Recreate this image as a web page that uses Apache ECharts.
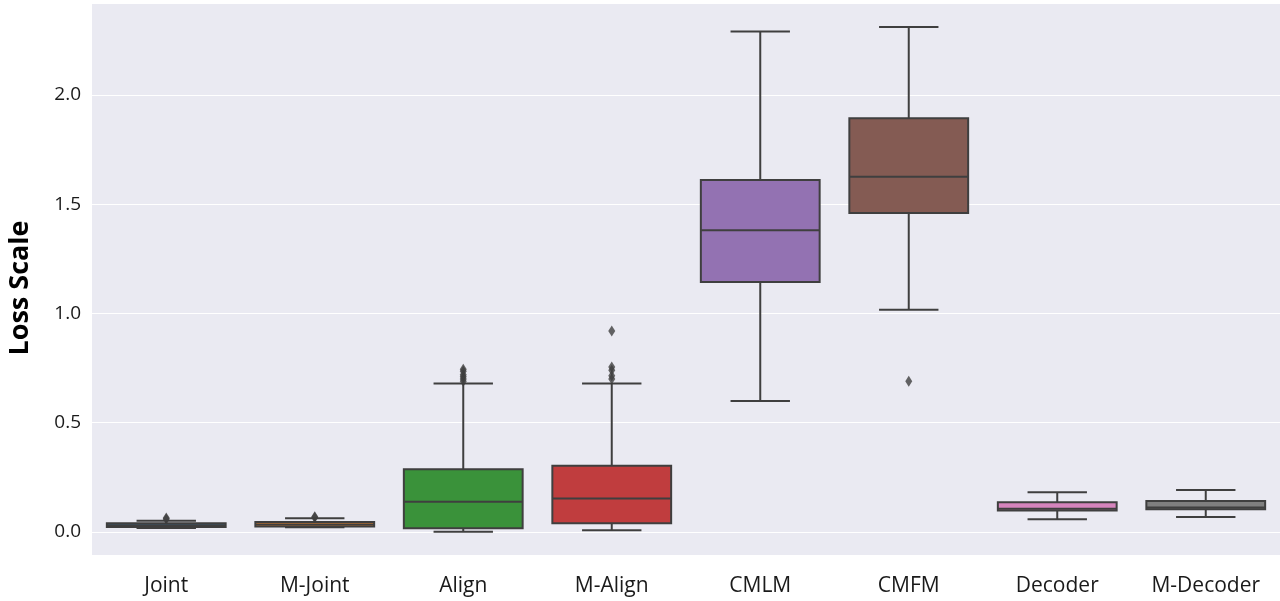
<!DOCTYPE html>
<html>
<head>
<meta charset="utf-8">
<script src="https://cdn.jsdelivr.net/npm/echarts@6/dist/echarts.min.js"></script>
<style>html,body{margin:0;padding:0;background:#fff;}#c{width:1280px;height:601px;}</style>
</head>
<body>
<div id="c"></div>
<script>
const categories = ['Joint','M-Joint','Align','M-Align','CMLM','CMFM','Decoder','M-Decoder'];
const whiskerLow  = [0.018, 0.022, 0.001, 0.008, 0.600, 1.017, 0.059, 0.069];
const q1          = [0.023, 0.025, 0.017, 0.040, 1.144, 1.459, 0.099, 0.104];
const median      = [0.031, 0.035, 0.139, 0.154, 1.381, 1.625, 0.107, 0.112];
const q3          = [0.040, 0.046, 0.287, 0.303, 1.610, 1.893, 0.136, 0.142];
const whiskerHigh = [0.052, 0.063, 0.680, 0.680, 2.290, 2.310, 0.182, 0.192];
const outJoint  = [0.060, 0.064];
const outMJoint = [0.066, 0.070];
const outAlign  = [0.690, 0.700, 0.710, 0.720, 0.735, 0.745];
const outMAlign = [0.700, 0.715, 0.740, 0.755, 0.920];
const outCMFM   = [0.690];
const yTicks = [0, 0.5, 1.0, 1.5, 2.0];

const boxColors = ['#3274a1','#e1812c','#3a923a','#c03d3e','#9372b2','#845b53','#d684bd','#7f7f7f'];
const lineColor = '#3f3f3f';

const boxData = categories.map((c, i) => [i, whiskerLow[i], q1[i], median[i], q3[i], whiskerHigh[i]]);
const outlierSets = [[0,outJoint],[1,outMJoint],[2,outAlign],[3,outMAlign],[5,outCMFM]];
const outlierData = [];
outlierSets.forEach(([i, arr]) => arr.forEach(v => outlierData.push([i, v])));

const chart = echarts.init(document.getElementById('c'), null, {renderer: 'canvas'});
const FONT = '"Open Sans", "Noto Sans", sans-serif';

chart.setOption({
  backgroundColor: '#ffffff',
  animation: false,
  grid: {left: 92, right: 0, top: 3, bottom: 46, show: true, backgroundColor: '#eaeaf2', borderWidth: 0,
         containLabel: false, outerBoundsMode: 'none'},
  xAxis: {
    type: 'category',
    data: categories,
    axisLine: {show: false},
    axisTick: {show: false},
    splitLine: {show: false},
    axisLabel: {color: '#1a1a1a', fontSize: 21, fontFamily: FONT, margin: 21}
  },
  yAxis: {
    type: 'value',
    min: -0.105,
    max: 2.42,
    axisLine: {show: false},
    axisTick: {show: false},
    splitLine: {show: true, lineStyle: {color: '#ffffff', width: 1}},
    axisLabel: {
      color: '#1a1a1a', fontSize: 19, fontFamily: FONT, margin: 11,
      showMinLabel: false, showMaxLabel: false,
      formatter: v => yTicks.some(t => Math.abs(t - v) < 1e-9) ? v.toFixed(1) : ''
    },
    name: 'Loss Scale',
    nameLocation: 'middle',
    nameGap: 58,
    nameTextStyle: {color: '#000', fontSize: 27, fontWeight: 'bold', fontFamily: FONT, padding: [0, 18, 0, 0]}
  },
  series: [
    {
      type: 'custom',
      data: boxData,
      encode: {x: 0, y: [1,2,3,4,5]},
      z: 3,
      renderItem: function (params, api) {
        const i = api.value(0);
        const lo = api.coord([i, api.value(1)]);
        const b1 = api.coord([i, api.value(2)]);
        const md = api.coord([i, api.value(3)]);
        const b3 = api.coord([i, api.value(4)]);
        const hi = api.coord([i, api.value(5)]);
        const band = api.size([1, 0])[0];
        const bw = band * 0.8;
        const cw = bw / 2;
        const x = lo[0];
        const ls = {stroke: lineColor, lineWidth: 2};
        return {
          type: 'group',
          children: [
            {type: 'line', shape: {x1: x, y1: b1[1], x2: x, y2: lo[1]}, style: ls},
            {type: 'line', shape: {x1: x, y1: b3[1], x2: x, y2: hi[1]}, style: ls},
            {type: 'line', shape: {x1: x - cw/2, y1: lo[1], x2: x + cw/2, y2: lo[1]}, style: ls},
            {type: 'line', shape: {x1: x - cw/2, y1: hi[1], x2: x + cw/2, y2: hi[1]}, style: ls},
            {type: 'rect', shape: {x: x - bw/2, y: b3[1], width: bw, height: b1[1] - b3[1]},
              style: {fill: boxColors[i], stroke: lineColor, lineWidth: 2}},
            {type: 'line', shape: {x1: x - bw/2, y1: md[1], x2: x + bw/2, y2: md[1]}, style: ls}
          ]
        };
      }
    },
    {
      type: 'scatter',
      data: outlierData,
      symbol: 'diamond',
      symbolSize: [7, 11],
      z: 4,
      itemStyle: {color: lineColor}
    }
  ]
});
</script>
</body>
</html>
